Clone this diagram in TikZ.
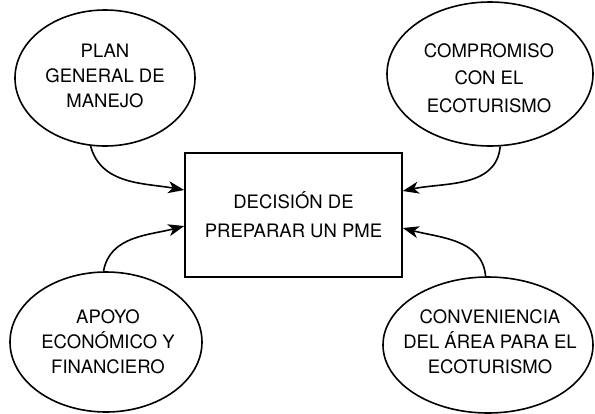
\documentclass[tikz,border=0pt]{standalone}
\usepackage{fontspec}
\setmainfont{TeX Gyre Heros}
\usetikzlibrary{shapes.geometric,arrows.meta}
\begin{document}
\begin{tikzpicture}[x=1pt,y=1pt,
  ell/.style={draw, ellipse, line width=1.6pt, inner sep=0pt},
  txt/.style={align=center, font=\fontsize{18.5}{25}\selectfont},
  boxn/.style={draw, rectangle, line width=1.6pt, inner sep=0pt, align=center,
    minimum width=217pt, minimum height=124pt, font=\fontsize{18.5}{29}\selectfont},
  conn/.style={line width=1.6pt, -{Stealth[length=16pt,width=12pt,inset=4.5pt]}}]
\useasboundingbox (0,0) rectangle (595,-413);
\node[boxn] (box) at (293.5,-215) {DECISIÓN DE\\PREPARAR UN PME};
\node[ell, minimum width=180pt, minimum height=136pt] (tl) at (105,-78) {};
\node[txt] (tlt) at (105,-76) {PLAN\\GENERAL DE\\MANEJO};
\node[ell, minimum width=206pt, minimum height=144pt] (tr) at (490,-74) {};
\node[txt, font=\fontsize{18.5}{27.5}\selectfont] (trt) at (489,-78) {COMPROMISO\\CON EL\\ECOTURISMO};
\node[ell, minimum width=192pt, minimum height=140pt] (bl) at (106,-342) {};
\node[txt] (blt) at (108,-342) {APOYO\\ECONÓMICO Y\\FINANCIERO};
\node[ell, minimum width=210pt, minimum height=136pt] (br) at (488,-345) {};
\node[txt] (brt) at (490,-342) {CONVENIENCIA\\DEL ÁREA PARA EL\\ECOTURISMO};
\draw[conn] (tl.258) to[out=-75, in=170] ([yshift=25pt]box.west);
\draw[conn] (tr.278) to[out=-95, in=12] ([yshift=24pt]box.east);
\draw[conn] (bl.92) to[out=80, in=195] ([yshift=-11pt]box.west);
\draw[conn] (br.92) to[out=95, in=-15] ([yshift=-13pt]box.east);
\end{tikzpicture}
\end{document}
